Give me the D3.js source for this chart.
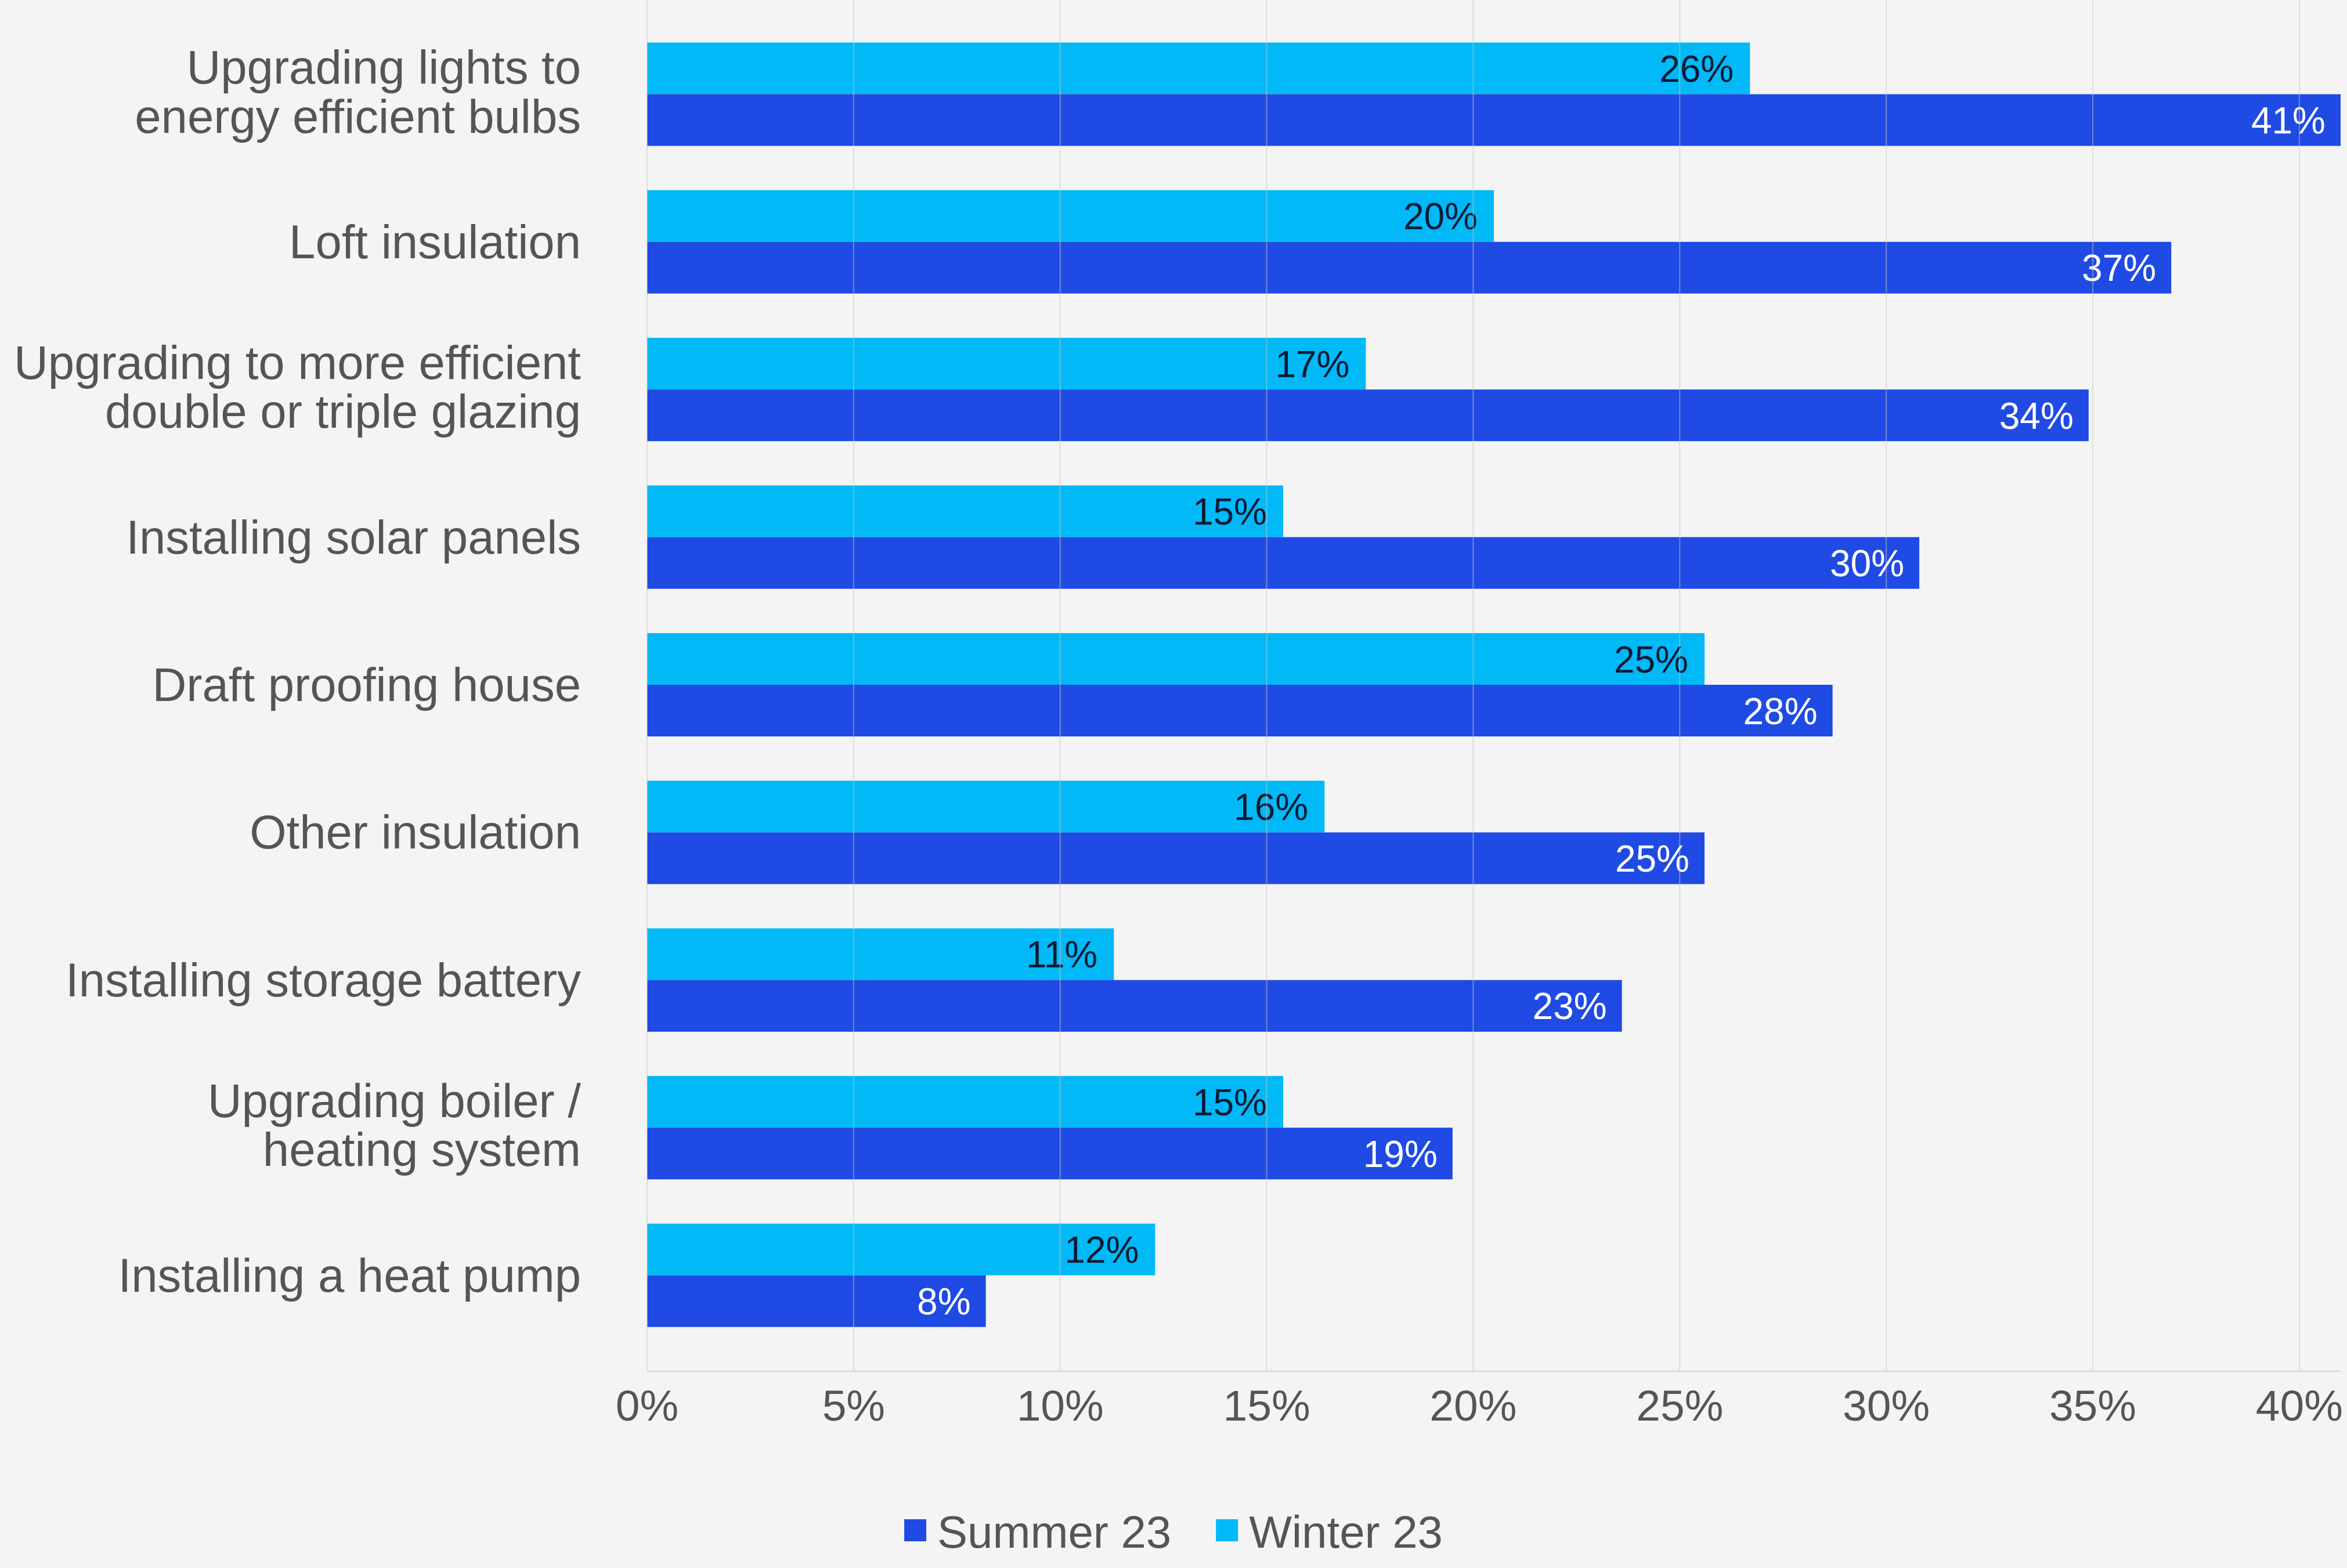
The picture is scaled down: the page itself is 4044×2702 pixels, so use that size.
<!DOCTYPE html>
<html>
<head>
<meta charset="utf-8">
<script src="https://cdn.jsdelivr.net/npm/d3@7"></script>
<style>
  body { margin: 0; background: #f4f4f4; }
  svg { display: block; font-family: "Liberation Sans", Arial, sans-serif; }
</style>
</head>
<body>
<svg id="chart"></svg>
<script>
// data
var categories = [
    ["Upgrading lights to", "energy efficient bulbs"],
    ["Loft insulation"],
    ["Upgrading to more efficient", "double or triple glazing"],
    ["Installing solar panels"],
    ["Draft proofing house"],
    ["Other insulation"],
    ["Installing storage battery"],
    ["Upgrading boiler /", "heating system"],
    ["Installing a heat pump"]
];
var summer = [41.0, 36.9, 34.9, 30.8, 28.7, 25.6, 23.6, 19.5, 8.2];
var winter = [26.7, 20.5, 17.4, 15.4, 25.6, 16.4, 11.3, 15.4, 12.3];
var summerLabels = ["41%", "37%", "34%", "30%", "28%", "25%", "23%", "19%", "8%"];
var winterLabels = ["26%", "20%", "17%", "15%", "25%", "16%", "11%", "15%", "12%"];
var ticks = [0, 5, 10, 15, 20, 25, 30, 35, 40];
var seriesNames = ["Summer 23", "Winter 23"];
var colors = {summer: "#1f4ae3", winter: "#00b9f6"};

var W = 4044, H = 2702;
var margin = {top: 0, left: 1115, right: 11};
var plotH = 2363;

var svg = d3.select("#chart").attr("width", W).attr("height", H);
svg.append("rect").attr("width", W).attr("height", H).attr("fill", "#f4f4f4");

var x = d3.scaleLinear()
    .domain([0, 41])
    .range([margin.left, W - margin.right]);

var y = d3.scaleBand()
    .domain(d3.range(categories.length))
    .range([-3, plotH])
    .paddingInner(0.3)
    .paddingOuter(0.3);

var half = y.bandwidth() / 2;

var groups = svg.append("g").selectAll("g")
    .data(categories)
    .enter().append("g")
    .attr("transform", function (d, i) { return "translate(0," + y(i) + ")"; });

// winter on top, summer below
groups.append("rect")
    .attr("x", x(0))
    .attr("y", 0)
    .attr("height", half)
    .attr("width", function (d, i) { return x(winter[i]) - x(0); })
    .attr("fill", colors.winter);

groups.append("rect")
    .attr("x", x(0))
    .attr("y", half)
    .attr("height", half)
    .attr("width", function (d, i) { return x(summer[i]) - x(0); })
    .attr("fill", colors.summer);

// gridlines drawn over the bars
svg.append("g").selectAll("line")
    .data(ticks)
    .enter().append("line")
    .attr("x1", function (d) { return x(d); })
    .attr("x2", function (d) { return x(d); })
    .attr("y1", 0)
    .attr("y2", plotH)
    .attr("stroke", "#c8c8c8")
    .attr("stroke-opacity", 0.5)
    .attr("stroke-width", 2);

// axis line
svg.append("line")
    .attr("x1", x(0)).attr("x2", W - margin.right)
    .attr("y1", plotH).attr("y2", plotH)
    .attr("stroke", "#dcdcdc")
    .attr("stroke-width", 3);

// value labels
groups.append("text")
    .attr("x", function (d, i) { return x(winter[i]) - 28; })
    .attr("y", half / 2)
    .attr("dy", "0.36em")
    .attr("text-anchor", "end")
    .attr("font-size", 64)
    .attr("fill", "#0c1a34")
    .text(function (d, i) { return winterLabels[i]; });

groups.append("text")
    .attr("x", function (d, i) { return x(summer[i]) - 26; })
    .attr("y", half * 1.5)
    .attr("dy", "0.36em")
    .attr("text-anchor", "end")
    .attr("font-size", 64)
    .attr("fill", "#ffffff")
    .text(function (d, i) { return summerLabels[i]; });

// category labels
var lh = 84.5;
groups.append("text")
    .attr("text-anchor", "end")
    .attr("font-size", 81.5)
    .attr("fill", "#555555")
    .each(function (d) {
        var t = d3.select(this);
        var first = y.bandwidth() / 2 + 28 - (d.length - 1) * lh / 2 - (d.length > 1 ? 4 : 0);
        d.forEach(function (line, k) {
            t.append("tspan")
                .attr("x", 1001)
                .attr("y", first + k * lh)
                .text(line);
        });
    });

// x tick labels
svg.append("g").selectAll("text")
    .data(ticks)
    .enter().append("text")
    .attr("x", function (d) { return x(d); })
    .attr("y", 2448)
    .attr("text-anchor", "middle")
    .attr("font-size", 75)
    .attr("fill", "#555555")
    .text(function (d) { return d + "%"; });

// legend, centred on the page
var legend = svg.append("g");
var legendColors = [colors.summer, colors.winter];
var cursor = 0;
seriesNames.forEach(function (name, i) {
    var item = legend.append("g").attr("transform", "translate(" + cursor + ",0)");
    item.append("rect")
        .attr("x", 0).attr("y", 2618)
        .attr("width", 38).attr("height", 38)
        .attr("fill", legendColors[i]);
    var txt = item.append("text")
        .attr("x", 57).attr("y", 2667)
        .attr("font-size", 78)
        .attr("fill", "#555555")
        .text(name);
    cursor += 57 + txt.node().getComputedTextLength() + 77;
});
var legendW = cursor - 77;
legend.attr("transform", "translate(" + ((W - legendW) / 2) + ",0)");
</script>
</body>
</html>
